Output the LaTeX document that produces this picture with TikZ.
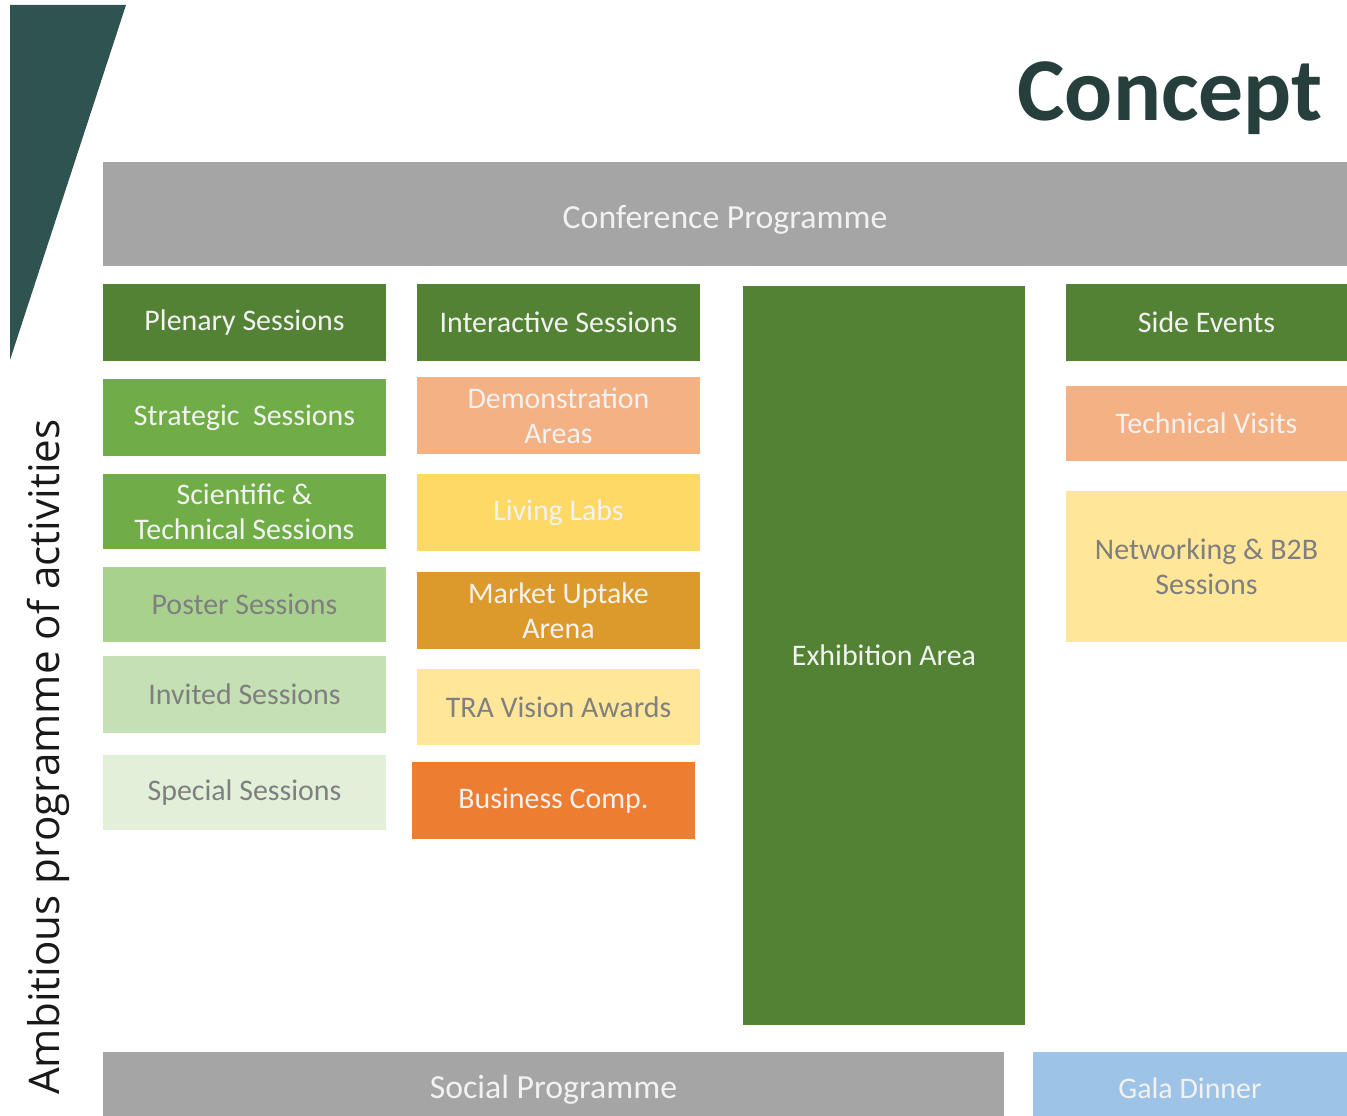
\documentclass[tikz,border=0pt]{standalone}
\usepackage{fontspec}
\setmainfont{Carlito}
\newfontfamily\sidefont{Open Sans}
\usepackage{tikz}

\definecolor{darkteal}{HTML}{2F5350}
\definecolor{titlegreen}{HTML}{263F3C}
\definecolor{boxgray}{HTML}{A5A5A5}
\definecolor{darkgreen}{HTML}{548235}
\definecolor{midgreen}{HTML}{70AD47}
\definecolor{lightgreen}{HTML}{A9D18E}
\definecolor{palegreen}{HTML}{C5E0B4}
\definecolor{mintgreen}{HTML}{E2F0D9}
\definecolor{salmon}{HTML}{F4B183}
\definecolor{gold}{HTML}{FFD966}
\definecolor{amber}{HTML}{DD9A2C}
\definecolor{cream}{HTML}{FFE699}
\definecolor{brightorange}{HTML}{ED7D31}
\definecolor{skyblue}{HTML}{9DC3E6}
\definecolor{lighttext}{HTML}{F2F2F2}
\definecolor{darktext}{HTML}{7F7F7F}

\tikzset{
  box/.style={rectangle, inner sep=0pt, align=center, text=lighttext,
    minimum width=2.83cm, minimum height=0.77cm,
    font=\fontsize{8.5}{10}\selectfont},
  dimbox/.style={box, text=darktext},
  band/.style={rectangle, inner sep=0pt, fill=boxgray, text=lighttext,
    text height=10pt, text depth=2pt,
    font=\fontsize{9.6}{11}\selectfont}
}

\begin{document}
\begin{tikzpicture}[x=0.01cm, y=-0.01cm]
  \useasboundingbox (0,0) rectangle (1347,1116);
  \begin{scope}
    \clip (0,0) rectangle (1347,1116);

    % corner wedge and title
    \fill[darkteal] (10,5) -- (126,5) -- (10,360) -- cycle;
    \node[text=titlegreen, font=\fontsize{25.5}{30}\bfseries\selectfont] (title) at (1170,98) {Concept};

    % top band
    \node[band, minimum width=12.44cm, minimum height=1.04cm] (conf) at (725,214) {Conference Programme};

    % first column
    \node[box, fill=darkgreen] (plenary) at (244.5,322.5) {Plenary Sessions};
    \node[box, fill=midgreen] (strategic) at (244.5,417.5) {Strategic~~Sessions};
    \node[box, fill=midgreen, minimum height=0.75cm] (scientific) at (244.5,511.5) {Scientific \&\\Technical Sessions};
    \node[dimbox, fill=lightgreen, minimum height=0.75cm] (poster) at (244.5,604.5) {Poster Sessions};
    \node[dimbox, fill=palegreen] (invited) at (244.5,694.5) {Invited Sessions};
    \node[dimbox, fill=mintgreen, minimum height=0.75cm] (special) at (244.5,792.5) {Special Sessions};

    % second column
    \node[box, fill=darkgreen] (interactive) at (558.5,322.5) {Interactive Sessions};
    \node[box, fill=salmon] (demo) at (558.5,415.5) {Demonstration\\Areas};
    \node[box, fill=gold] (living) at (558.5,512.5) {Living Labs};
    \node[box, fill=amber] (market) at (558.5,610.5) {Market Uptake\\Arena};
    \node[dimbox, fill=cream, minimum height=0.76cm] (tra) at (558.5,707) {TRA Vision Awards};
    \node[box, fill=brightorange] (business) at (553.5,800.5) {Business Comp.};

    % exhibition
    \node[box, fill=darkgreen, minimum width=2.82cm, minimum height=7.39cm] (exhibition) at (884,655.5) {Exhibition Area};

    % fourth column
    \node[box, fill=darkgreen, minimum width=2.81cm] (side) at (1206.5,322.5) {Side Events};
    \node[box, fill=salmon, minimum width=2.81cm, minimum height=0.75cm] (visits) at (1206.5,423.5) {Technical Visits};
    \node[dimbox, fill=cream, minimum width=2.81cm, minimum height=1.51cm] (networking) at (1206.5,566.5) {Networking \& B2B\\Sessions};

    % bottom band
    \node[band, minimum width=9.01cm, minimum height=0.64cm] (social) at (553.5,1084) {Social Programme};
    \node[band, fill=skyblue, minimum width=3.14cm, minimum height=0.64cm,
      font=\fontsize{8.5}{10}\selectfont] (gala) at (1190,1084) {Gala Dinner};

    % side caption
    \node[rotate=90, text=black!90, font=\sidefont\fontsize{12}{14}\selectfont] (caption) at (48,757) {Ambitious programme of activities};
  \end{scope}
\end{tikzpicture}
\end{document}
